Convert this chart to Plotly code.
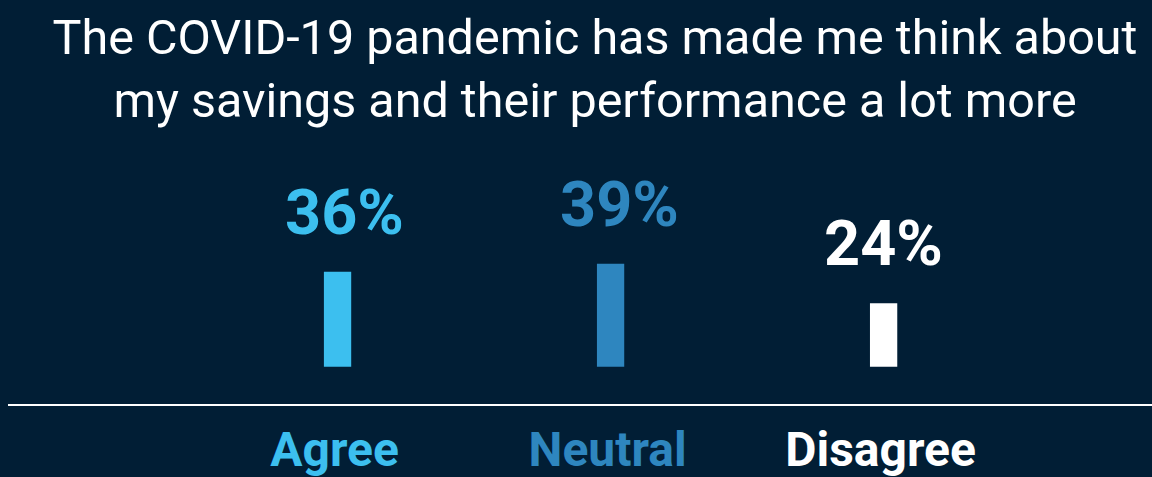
import plotly.graph_objects as go

# Survey responses
categories = ["Agree", "Neutral", "Disagree"]
shares = [36, 39, 24]
colors = ["#3CBFEF", "#2E86BF", "#FFFFFF"]

title_lines = [
    "The COVID-19 pandemic has made me think about",
    "my savings and their performance a lot more",
]

BG = "#011E35"
x_pos = list(range(len(categories)))
label_nudge = [7, 9, 0]  # horizontal pixel nudges for the value labels

fig = go.Figure(
    go.Bar(
        x=x_pos,
        y=shares,
        width=0.1,
        marker=dict(color=colors, line=dict(width=0)),
        hoverinfo="skip",
    )
)

# Percentage labels floating above each bar
for xi, v, c, dx in zip(x_pos, shares, colors, label_nudge):
    fig.add_annotation(
        x=xi, y=v, xref="x", yref="y",
        text=f"<b>{v}%</b>",
        showarrow=False,
        yanchor="bottom",
        yshift=21,
        xshift=dx,
        font=dict(family="Roboto", size=63, color=c),
    )

fig.update_layout(
    width=1152,
    height=477,
    paper_bgcolor=BG,
    plot_bgcolor=BG,
    margin=dict(l=8, r=0, t=150, b=73),
    showlegend=False,
    title=dict(
        text="<br>".join(title_lines),
        x=595 / 1152,
        xanchor="center",
        xref="container",
        yref="container",
        y=0.886,
        yanchor="top",
        font=dict(family="Roboto", size=48.5, color="#FFFFFF"),
    ),
    xaxis=dict(
        range=[-1.207, 2.983],
        tickvals=x_pos,
        ticktext=[
            f'<span style="color:{c}"><b>{cat}</b></span>'
            for cat, c in zip(categories, colors)
        ],
        tickfont=dict(family="Roboto", size=48),
        showline=True,
        linecolor="#FFFFFF",
        linewidth=2,
        showgrid=False,
        zeroline=False,
        ticks="",
        ticklabelstandoff=2,
        ticklabelshift=-3,
        automargin=False,
        fixedrange=True,
    ),
    yaxis=dict(
        range=[-14.13, 82.1],
        visible=False,
        showgrid=False,
        zeroline=False,
        automargin=False,
        fixedrange=True,
    ),
)

fig.write_html("out.html")
